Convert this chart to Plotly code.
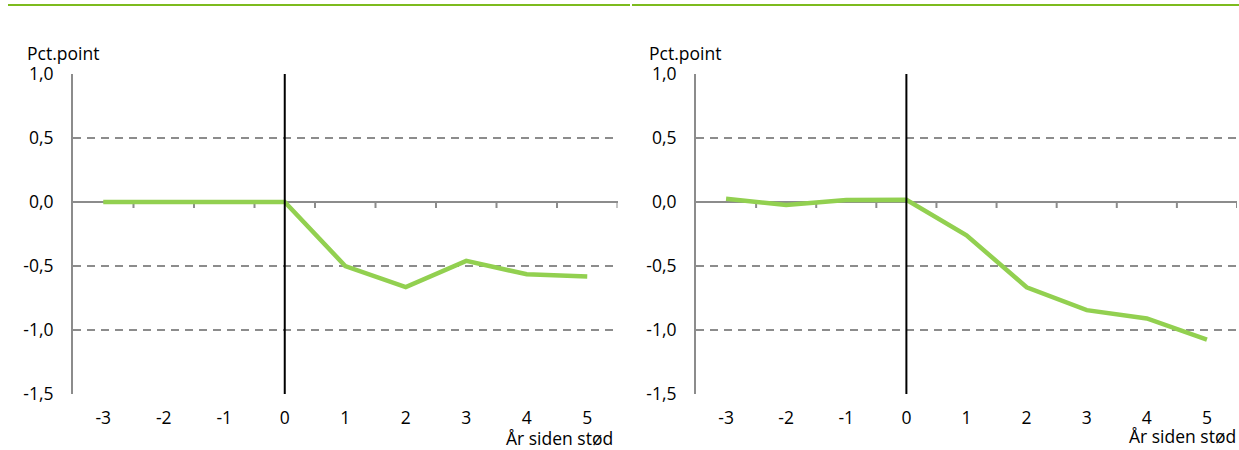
import plotly.graph_objects as go

years = [-3, -2, -1, 0, 1, 2, 3, 4, 5]
tick_labels = ["-3", "-2", "-1", "0", "1", "2", "3", "4", "5"]
left_values = [0.0, 0.0, 0.0, 0.0, -0.50, -0.665, -0.46, -0.565, -0.583]
right_values = [0.025, -0.023, 0.016, 0.018, -0.26, -0.666, -0.845, -0.91, -1.075]
y_ticks = [1.0, 0.5, 0.0, -0.5, -1.0, -1.5]
y_tick_labels = ["1,0", "0,5", "0,0", "-0,5", "-1,0", "-1,5"]
y_title = "Pct.point"
x_title = "År siden stød"

W, H = 1239, 450
FONT = "Open Sans"
FS = 17.5
LINE_GREEN = "#92D050"
TOP_GREEN = "#7DBB1E"
GRID = "#8C8C8C"

def px(x):
    return x / W

def py(y):
    return 1 - y / H

fig = go.Figure()
fig.add_trace(go.Scatter(x=years, y=left_values, mode="lines",
                         line=dict(color=LINE_GREEN, width=4.5),
                         xaxis="x", yaxis="y", showlegend=False, hoverinfo="skip"))
fig.add_trace(go.Scatter(x=years, y=right_values, mode="lines",
                         line=dict(color=LINE_GREEN, width=4.5),
                         xaxis="x2", yaxis="y2", showlegend=False, hoverinfo="skip"))

ydom = [py(394), py(74)]
xdom1 = [px(73), px(617.5)]
xdom2 = [px(696), px(1237)]

xaxis_common = dict(range=[-3.5, 5.5], tickvals=years, ticktext=tick_labels,
                    showgrid=False, zeroline=False, showline=False,
                    ticks="outside", ticklen=8, tickcolor="rgba(0,0,0,0)",
                    tickfont=dict(family=FONT, size=FS, color="#000"),
                    automargin=False, fixedrange=True)
yaxis_common = dict(range=[-1.5, 1.0], tickvals=y_ticks, ticktext=y_tick_labels,
                    showgrid=True, gridcolor=GRID, gridwidth=2, griddash="8px,6px",
                    zeroline=True, zerolinecolor=GRID, zerolinewidth=2,
                    showline=True, linecolor=GRID, linewidth=2,
                    ticks="outside", ticklen=14, tickcolor="rgba(0,0,0,0)",
                    tickfont=dict(family=FONT, size=FS, color="#000"),
                    automargin=False, fixedrange=True)

fig.update_layout(
    width=W, height=H,
    margin=dict(l=0, r=0, t=0, b=0, pad=0),
    paper_bgcolor="white", plot_bgcolor="white",
    xaxis=dict(domain=xdom1, anchor="y", **xaxis_common),
    yaxis=dict(domain=ydom, anchor="x", **yaxis_common),
    xaxis2=dict(domain=xdom2, anchor="y2", **xaxis_common),
    yaxis2=dict(domain=ydom, anchor="x2", **yaxis_common),
    font=dict(family=FONT, size=FS, color="#000"),
)

shapes = []
# top decorative green rules
shapes.append(dict(type="line", xref="paper", yref="paper", x0=px(8), x1=px(630), y0=py(5), y1=py(5),
                   line=dict(color=TOP_GREEN, width=2)))
shapes.append(dict(type="line", xref="paper", yref="paper", x0=px(632), x1=1, y0=py(5), y1=py(5),
                   line=dict(color=TOP_GREEN, width=2)))
for xa, ya in (("x", "y"), ("x2", "y2")):
    # shock marker at year 0
    shapes.append(dict(type="line", xref=xa, yref=ya, x0=0, x1=0, y0=-1.5, y1=1.0,
                       line=dict(color="#000", width=2), layer="above"))
    # tick marks on the zero line between categories
    for k in years:
        shapes.append(dict(type="line", xref=xa, yref=ya, x0=k + 0.5, x1=k + 0.5,
                           ysizemode="pixel", yanchor=0, y0=0, y1=-6,
                           line=dict(color=GRID, width=2), layer="below"))
fig.update_layout(shapes=shapes)

ann_font = dict(family=FONT, size=FS, color="#000")
annotations = [
    dict(text=y_title, xref="paper", yref="paper", x=px(26), y=py(53), xanchor="left", yanchor="middle",
         showarrow=False, borderpad=0, font=ann_font),
    dict(text=y_title, xref="paper", yref="paper", x=px(648), y=py(53), xanchor="left", yanchor="middle",
         showarrow=False, borderpad=0, font=ann_font),
    dict(text=x_title, xref="paper", yref="paper", x=px(614), y=py(438), xanchor="right", yanchor="middle",
         showarrow=False, borderpad=0, font=ann_font),
    dict(text=x_title, xref="paper", yref="paper", x=px(1237), y=py(436), xanchor="right", yanchor="middle",
         showarrow=False, borderpad=0, font=ann_font),
]
fig.update_layout(annotations=annotations)

fig.write_html("out.html", config={"displayModeBar": False, "staticPlot": True},
               post_script="document.body.style.margin='0';document.body.style.overflow='hidden';")
